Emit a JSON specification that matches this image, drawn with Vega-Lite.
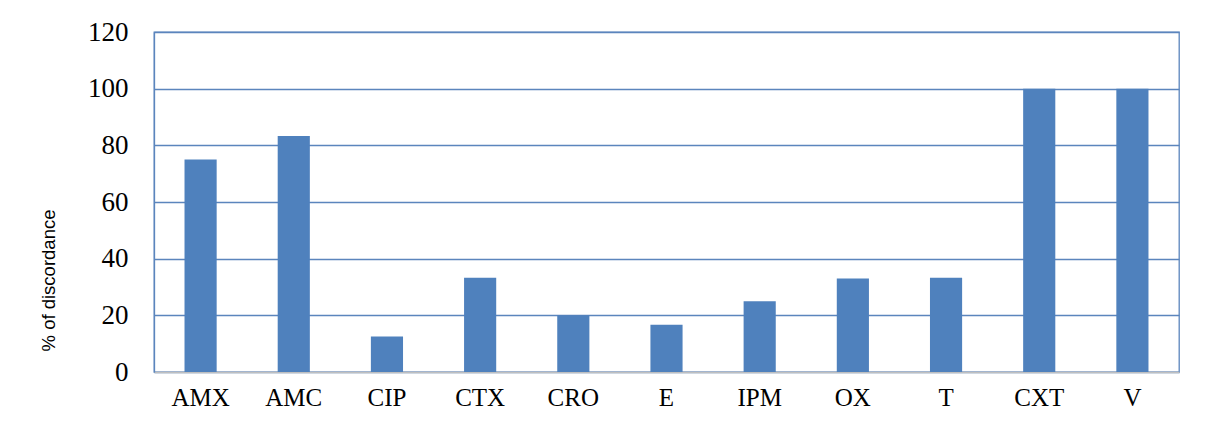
{
  "$schema": "https://vega.github.io/schema/vega-lite/v6.json",
  "width": 1025,
  "height": 340,
  "autosize": {"type": "none"},
  "padding": {"left": 154, "top": 32, "right": 28, "bottom": 49},
  "background": "white",
  "config": {
    "view": {"stroke": "#5b85bd", "strokeWidth": 1.3},
    "font": "Liberation Serif"
  },
  "data": {
    "values": [
      {"drug": "AMX", "pct": 75},
      {"drug": "AMC", "pct": 83.3},
      {"drug": "CIP", "pct": 12.5},
      {"drug": "CTX", "pct": 33.3},
      {"drug": "CRO", "pct": 20},
      {"drug": "E", "pct": 16.7},
      {"drug": "IPM", "pct": 25},
      {"drug": "OX", "pct": 33},
      {"drug": "T", "pct": 33.3},
      {"drug": "CXT", "pct": 100},
      {"drug": "V", "pct": 100}
    ]
  },
  "mark": {"type": "bar", "color": "#4f81bd"},
  "encoding": {
    "x": {
      "field": "drug",
      "type": "nominal",
      "sort": null,
      "scale": {"paddingInner": 0.655, "paddingOuter": 0.3275},
      "axis": {
        "title": null,
        "labelAngle": 0,
        "labelFont": "Liberation Serif",
        "labelFontSize": 25,
        "labelColor": "#000000",
        "labelPadding": 13,
        "ticks": false,
        "domainColor": "#bfbfbf",
        "domainWidth": 1.5,
        "grid": false
      }
    },
    "y": {
      "field": "pct",
      "type": "quantitative",
      "scale": {"domain": [0, 120], "nice": false},
      "axis": {
        "values": [0, 20, 40, 60, 80, 100, 120],
        "title": "% of discordance",
        "titleFont": "Liberation Sans",
        "titleFontWeight": "normal",
        "titleFontSize": 18.5,
        "titleColor": "#000000",
        "titleX": -106,
        "titleY": 248,
        "titleAngle": -90,
        "titleAlign": "center",
        "titleBaseline": "middle",
        "labelFont": "Liberation Serif",
        "labelFontSize": 27,
        "labelColor": "#000000",
        "labelPadding": 26,
        "ticks": false,
        "domainColor": "#5b85bd",
        "domainWidth": 1.3,
        "grid": true,
        "gridColor": "#5b85bd",
        "gridWidth": 1.3
      }
    }
  }
}
